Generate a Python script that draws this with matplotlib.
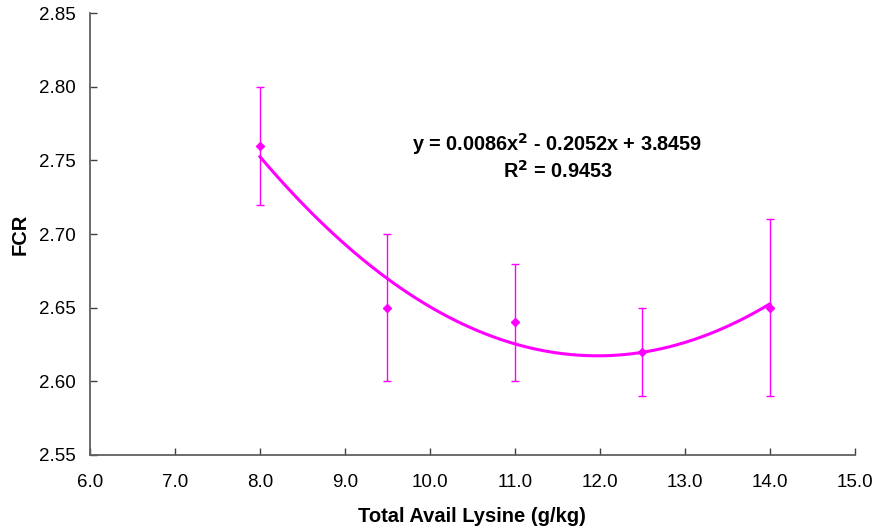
import matplotlib
matplotlib.use('Agg')
import matplotlib.pyplot as plt
import numpy as np

plt.rcParams['font.family'] = ['Liberation Sans', 'DejaVu Sans']

lysine = [8.0, 9.5, 11.0, 12.5, 14.0]
fcr = [2.76, 2.65, 2.64, 2.62, 2.65]
fcr_err = [0.04, 0.05, 0.04, 0.03, 0.06]
r_squared = 0.9453

magenta = '#FF00FF'

fig = plt.figure(figsize=(8.74, 5.29), dpi=100)
ax = fig.add_axes([0.103, 0.140, 0.875, 0.835])

# 2nd order polynomial trendline fitted to the means
coef = np.polyfit(lysine, fcr, 2)
xs = np.linspace(min(lysine), max(lysine), 200)
ax.plot(xs, np.polyval(coef, xs), color=magenta, lw=2.2, zorder=2)

ax.errorbar(lysine, fcr, yerr=fcr_err, fmt='D', color=magenta, ms=4.5,
            ecolor=magenta, elinewidth=1.0, capsize=2.8, capthick=1.0, zorder=3)

eq = 'y = %.4fx$^{\\mathbf{2}}$ - %.4fx + %.4f' % (coef[0], -coef[1], coef[2])
ax.text(11.5, 2.761, eq, ha='center', va='center', fontsize=14.3, fontweight='bold')
ax.text(11.5, 2.743, 'R$^{\\mathbf{2}}$ = %.4f' % r_squared,
        ha='center', va='center', fontsize=14.3, fontweight='bold')

ax.set_xlim(6.0, 15.0)
ax.set_ylim(2.55, 2.85)
ax.set_xticks(np.arange(6.0, 15.01, 1.0))
ax.set_yticks(np.arange(2.55, 2.851, 0.05))
ax.xaxis.set_major_formatter(plt.FormatStrFormatter('%.1f'))
ax.yaxis.set_major_formatter(plt.FormatStrFormatter('%.2f'))
ax.tick_params(direction='in', length=5, width=1, labelsize=13.5, color='#404040')
ax.tick_params(axis='x', pad=14)
ax.tick_params(axis='y', pad=10)

for s in ['top', 'right']:
    ax.spines[s].set_visible(False)
for s in ['left', 'bottom']:
    ax.spines[s].set_color('#606060')
    ax.spines[s].set_linewidth(1.3)

ax.set_xlabel('Total Avail Lysine (g/kg)', fontsize=14.5, fontweight='bold', labelpad=11)
ax.set_ylabel('FCR', fontsize=14.5, fontweight='bold', labelpad=7)

fig.savefig('out.png', dpi=100)
